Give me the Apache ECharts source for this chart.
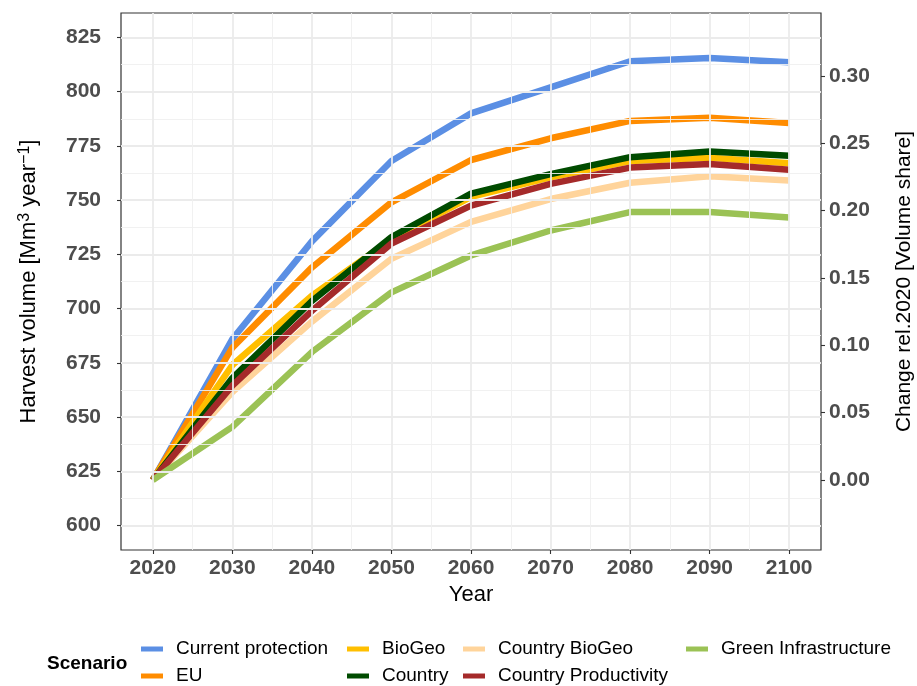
<!DOCTYPE html>
<html>
<head>
<meta charset="utf-8">
<script src="https://cdn.jsdelivr.net/npm/echarts@6/dist/echarts.min.js"></script>
<style>
  html, body { margin: 0; padding: 0; background: #ffffff; }
  #chart { width: 917px; height: 686px; }
</style>
</head>
<body>
<div id="chart"></div>
<script>
// Harvest volume projections per protection scenario [Mm3 / year]
const years = [2020, 2030, 2040, 2050, 2060, 2070, 2080, 2090, 2100];
const currentProtection   = [621, 686.0, 731.0, 768.0, 790.0, 802.0, 814.0, 815.5, 813.5];
const eu                  = [621, 682.0, 719.0, 749.0, 768.5, 778.5, 786.5, 788.0, 785.5];
const bioGeo              = [621, 674.0, 706.0, 732.0, 751.5, 760.5, 768.0, 769.5, 767.0];
const country             = [621, 668.0, 703.5, 733.0, 753.0, 762.0, 769.8, 772.4, 770.5];
const countryBioGeo       = [621, 661.5, 694.0, 723.0, 740.0, 750.5, 758.0, 761.0, 759.0];
const countryProductivity = [621, 664.5, 699.0, 730.0, 747.5, 757.5, 765.0, 766.7, 764.0];
const greenInfrastructure = [621, 645.5, 680.0, 707.5, 724.5, 736.0, 744.5, 744.5, 742.0];

const scenarioNames = ['Current protection', 'EU', 'BioGeo', 'Country',
  'Country BioGeo', 'Country Productivity', 'Green Infrastructure'];
const scenarioValues = [currentProtection, eu, bioGeo, country,
  countryBioGeo, countryProductivity, greenInfrastructure];
const scenarioColors = ['#5B8FE4', '#FF8C00', '#FFBF00', '#004B00',
  '#FFD49B', '#A52A2A', '#9BC255'];

// 2020 volume: reference level of the secondary (relative change) axis
const baseVolume = 621;

// Axis breaks
const volumeTicks = [600, 625, 650, 675, 700, 725, 750, 775, 800, 825];
const volumeMinorTicks = [612.5, 637.5, 662.5, 687.5, 712.5, 737.5, 762.5, 787.5, 812.5];
const yearTicks = years;
const yearMinorTicks = [2025, 2035, 2045, 2055, 2065, 2075, 2085, 2095];
const shareTicks = [0, 0.05, 0.10, 0.15, 0.20, 0.25, 0.30];

// Axis limits (5% padding round the break range)
const volumeMin = 588.75, volumeMax = 836.25;
const yearMin = 2016, yearMax = 2104;

const FONT = '"Liberation Sans", Arial, Helvetica, sans-serif';
const tickLabelStyle = { fontFamily: FONT, fontSize: 21, fontWeight: 'bold', color: '#4D4D4D' };
const tickStyle = { show: true, length: 4, lineStyle: { color: '#333333', width: 1.1 } };

const gridLines = [];
volumeTicks.forEach(v => gridLines.push({ yAxis: v, lineStyle: { color: '#EBEBEB', width: 1.8, type: 'solid' } }));
volumeMinorTicks.forEach(v => gridLines.push({ yAxis: v, lineStyle: { color: '#EFEFEF', width: 0.9, type: 'solid' } }));
yearTicks.forEach(v => gridLines.push({ xAxis: v, lineStyle: { color: '#EBEBEB', width: 1.8, type: 'solid' } }));
yearMinorTicks.forEach(v => gridLines.push({ xAxis: v, lineStyle: { color: '#EFEFEF', width: 0.9, type: 'solid' } }));

const series = [{
  name: 'panel-grid',
  type: 'line',
  data: [],
  z: 1,
  silent: true,
  markLine: {
    silent: true,
    symbol: ['none', 'none'],
    label: { show: false },
    emphasis: { disabled: true },
    animation: false,
    data: gridLines
  }
}];

scenarioNames.forEach((name, i) => {
  series.push({
    name: name,
    type: 'line',
    data: years.map((y, k) => [y, scenarioValues[i][k]]),
    showSymbol: false,
    symbol: 'none',
    z: 3,
    lineStyle: { color: scenarioColors[i], width: 6.5, cap: 'butt', join: 'round' },
    itemStyle: { color: scenarioColors[i] },
    emphasis: { disabled: true }
  });
});

// Legend: two rows, filled column by column
const legendColumnsX = [141, 347, 463, 686];
const legendRowsY = [639, 666];
const legends = scenarioNames.map((name, i) => ({
  show: true,
  orient: 'horizontal',
  left: legendColumnsX[Math.floor(i / 2)],
  top: legendRowsY[i % 2],
  padding: 0,
  icon: 'rect',
  itemWidth: 22,
  itemHeight: 5,
  selectedMode: false,
  data: [name],
  textStyle: { fontFamily: FONT, fontSize: 19, color: '#000000', lineHeight: 20, padding: [0, 0, 0, 8] }
}));

const option = {
  animation: false,
  backgroundColor: '#ffffff',
  grid: {
    left: 121, right: 96, top: 13, bottom: 136,
    outerBoundsMode: 'none',
    containLabel: false,
    show: true, borderColor: '#333333', borderWidth: 1.2, backgroundColor: 'transparent'
  },
  xAxis: {
    type: 'value',
    min: yearMin, max: yearMax,
    name: 'Year',
    nameLocation: 'middle',
    nameGap: 32,
    nameTextStyle: { fontFamily: FONT, fontSize: 22, color: '#000000' },
    axisLine: { show: false, onZero: false },
    axisTick: Object.assign({ customValues: yearTicks }, tickStyle),
    axisLabel: Object.assign({ customValues: yearTicks, margin: 8, formatter: v => String(v) }, tickLabelStyle),
    splitLine: { show: false }
  },
  yAxis: [{
    type: 'value',
    position: 'left',
    min: volumeMin, max: volumeMax,
    name: 'Harvest volume [Mm{sup|3} year{sup|−1}]',
    nameLocation: 'middle',
    nameRotate: 90,
    nameGap: 80,
    nameTextStyle: {
      fontFamily: FONT, fontSize: 22, color: '#000000', lineHeight: 24,
      rich: { sup: { fontFamily: FONT, fontSize: 16, color: '#000000', verticalAlign: 'top', lineHeight: 13 } }
    },
    axisLine: { show: false, onZero: false },
    axisTick: Object.assign({ customValues: volumeTicks }, tickStyle),
    axisLabel: Object.assign({ customValues: volumeTicks, margin: 20, formatter: v => String(v) }, tickLabelStyle),
    splitLine: { show: false }
  }, {
    type: 'value',
    position: 'right',
    min: volumeMin / baseVolume - 1,
    max: volumeMax / baseVolume - 1,
    name: 'Change rel.2020 [Volume share]',
    nameLocation: 'middle',
    nameRotate: 90,
    nameGap: 73,
    nameTextStyle: { fontFamily: FONT, fontSize: 21, color: '#000000' },
    axisLine: { show: false, onZero: false },
    axisTick: Object.assign({ customValues: shareTicks }, tickStyle),
    axisLabel: Object.assign({ customValues: shareTicks, margin: 8, formatter: v => v.toFixed(2) }, tickLabelStyle),
    splitLine: { show: false }
  }],
  legend: legends,
  graphic: [{
    type: 'text',
    left: 47,
    top: 654,
    style: { text: 'Scenario', font: 'bold 19px ' + FONT, fill: '#000000' }
  }],
  series: series
};

const chart = echarts.init(document.getElementById('chart'), null, { renderer: 'canvas' });
chart.setOption(option);
</script>
</body>
</html>
